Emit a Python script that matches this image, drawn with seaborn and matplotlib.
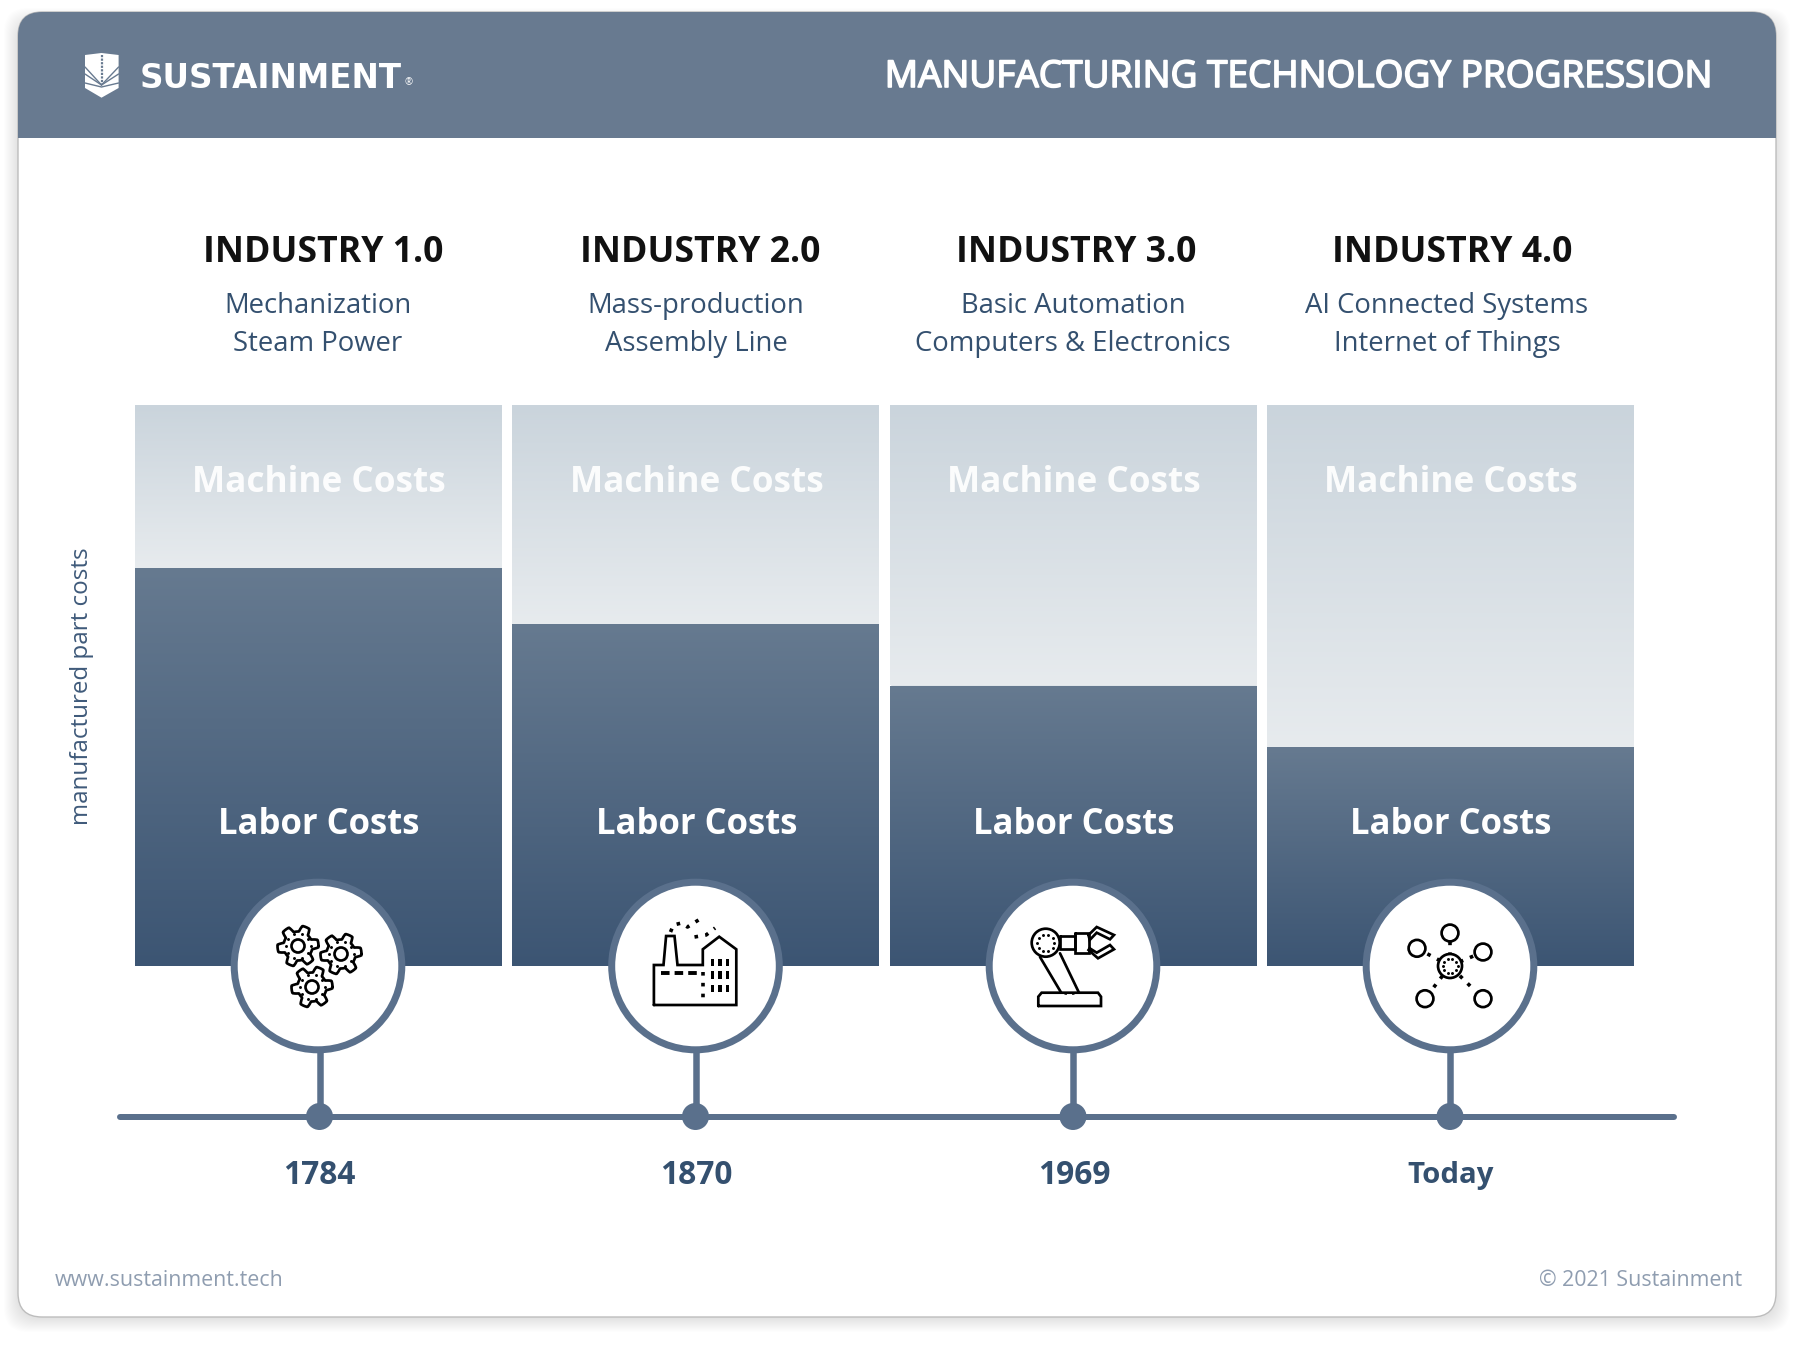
# ==========================================
# MANUFACTURING TECHNOLOGY PROGRESSION
# ==========================================

import numpy as np
import pandas as pd
import matplotlib
matplotlib.use("Agg")
import matplotlib.pyplot as plt
import matplotlib.patheffects as pe
import seaborn as sns
from matplotlib.colors import LinearSegmentedColormap
from matplotlib.patches import Circle, FancyBboxPatch, Polygon, Rectangle

# ==========================================
# DATA
# ==========================================

industries = ["INDUSTRY 1.0", "INDUSTRY 2.0", "INDUSTRY 3.0", "INDUSTRY 4.0"]
line_one = ["Mechanization", "Mass-production", "Basic Automation", "AI Connected Systems"]
line_two = ["Steam Power", "Assembly Line", "Computers & Electronics", "Internet of Things"]
years = ["1784", "1870", "1969", "Today"]
labor_costs = [71, 61, 50, 39]
machine_costs = [29, 39, 50, 61]

df = pd.DataFrame({"industry": industries, "labor": labor_costs, "machine": machine_costs})
df["total"] = df["labor"] + df["machine"]

# ==========================================
# STYLE
# ==========================================

sns.set_theme(style="white")
plt.rcParams["font.family"] = ["Open Sans", "DejaVu Sans"]

SLATE = "#687a90"
RING = "#5a708c"
NAVY = "#34506f"
GREY = "#8f9db0"

fig = plt.figure(figsize=(18, 13.47), dpi=100, facecolor="white")

# ==========================================
# CARD BACKGROUND
# ==========================================

bg = fig.add_axes([0, 0, 1, 1], zorder=0)
bg.set_xlim(0, 1800)
bg.set_ylim(1347, 0)
bg.axis("off")

for grow in range(1, 15):
    bg.add_patch(FancyBboxPatch((18 - grow, 22 - grow), 1758 + 2 * grow, 1296 + 2 * grow,
                                boxstyle="round,pad=0,rounding_size=24", fc="black", ec="none", alpha=0.007))

card = FancyBboxPatch((18, 12), 1758, 1305, boxstyle="round,pad=0,rounding_size=24",
                      fc="white", ec="#bdbdbd", lw=1)
bg.add_patch(card)
header = Rectangle((18, 12), 1758, 126, fc=SLATE, ec="none")
bg.add_patch(header)
header.set_clip_path(card)

# ==========================================
# STACKED BARS
# ==========================================

ax = fig.add_axes([129.5 / 1800, 1 - 966 / 1347, 1510 / 1800, 561 / 1347], zorder=1)
sns.barplot(data=df, x="industry", y="total", width=0.972, color="#d8dfe4", saturation=1, ax=ax)
sns.barplot(data=df, x="industry", y="labor", width=0.972, color="#526a86", saturation=1, ax=ax)
ax.set_xlim(-0.5, 3.5)
ax.set_ylim(0, 100)
ax.axis("off")

machine_cmap = LinearSegmentedColormap.from_list("machine", ["#cad4dc", "#e7ebee"])
labor_cmap = LinearSegmentedColormap.from_list("labor", ["#667a90", "#3c5573"])
gradient = np.linspace(0, 1, 256).reshape(-1, 1)

n = len(industries)
for i, patch in enumerate(ax.patches):
    x0 = patch.get_x()
    x1 = x0 + patch.get_width()
    top = patch.get_height()
    if i < n:
        img = ax.imshow(gradient, cmap=machine_cmap, aspect="auto", extent=(x0, x1, labor_costs[i], top), zorder=3)
    else:
        img = ax.imshow(gradient, cmap=labor_cmap, aspect="auto", extent=(x0, x1, 0, top), zorder=4)
    clip = Rectangle((x0, 0), x1 - x0, top, transform=ax.transData)
    img.set_clip_path(clip)

ax.set_xlim(-0.5, 3.5)
ax.set_ylim(0, 100)

# ==========================================
# TEXT, TIMELINE AND ICONS (PIXEL COORDINATES)
# ==========================================

over = fig.add_axes([0, 0, 1, 1], zorder=2)
over.set_xlim(0, 1800)
over.set_ylim(1347, 0)
over.axis("off")
over.patch.set_alpha(0)

centers = [318, 695.5, 1073, 1450]
stems = [319.5, 695.5, 1073, 1450]
head_x = [323, 700, 1076, 1452]
sub_x = [318, 696, 1073, 1447]
INK = 2.7 * 0.72


def outline(cx, cy, pts, close=True, lw=INK):
    xs = [cx + p[0] for p in pts]
    ys = [cy + p[1] for p in pts]
    if close:
        xs.append(xs[0])
        ys.append(ys[0])
    over.plot(xs, ys, color="black", lw=lw, solid_joinstyle="miter", zorder=8)


def dotted(cx, cy, pts, lw=2.6):
    xs = [cx + p[0] for p in pts]
    ys = [cy + p[1] for p in pts]
    over.plot(xs, ys, color="black", lw=lw, ls=(0, (1, 2.0)), zorder=8)


def ring(cx, cy, r):
    over.add_patch(Circle((cx, cy), r, fc="white", ec="black", lw=INK, zorder=8))


def dot_ring(cx, cy, r, n=10, size=4.5):
    ang = np.linspace(0, 2 * np.pi, n, endpoint=False)
    over.scatter(cx + r * np.cos(ang), cy + r * np.sin(ang), s=size, color="black", lw=0, zorder=9)


def gear(cx, cy):
    ang = np.linspace(0, 2 * np.pi, 181)
    rad = 17.5 + 3 * np.clip(2.2 * np.cos(6 * (ang + 0.12)), -1, 1)
    outline(cx, cy, list(zip(rad * np.cos(ang), rad * np.sin(ang))))
    ring(cx, cy, 6.5)
    dot_ring(cx, cy, 12.5, n=10)


def icon_gears(cx, cy):
    gear(cx - 20, cy - 20)
    gear(cx + 23, cy - 12)
    gear(cx - 6, cy + 21)


def icon_factory(cx, cy):
    outline(cx, cy, [(-41.6, 39), (-41.6, -1), (-32, -1), (-29.4, -30), (-21, -30), (-18, -1), (7.3, -1),
                     (7.3, -16.7), (23.7, -29.3), (40.8, -16.7), (40.8, 39)])
    over.plot([cx - 35, cx + 3.3], [cy + 7.3, cy + 7.3], color="black", lw=2.8, ls=(0, (2.2, 1.3)), zorder=8)
    dotted(cx, cy, [(7.8, 5.7), (7.8, 37)])
    dotted(cx, cy, [(-25, -34), (-22, -41), (-14, -43), (-8, -39), (3, -46)])
    dotted(cx, cy, [(-1, -29), (10.6, -31), (19.6, -38)])
    for wx in [17, 24.5, 32]:
        for wy in [-3.7, 9, 22.3]:
            over.add_patch(Rectangle((cx + wx - 1.9, cy + wy - 3.8), 3.8, 7.6, fc="black", ec="none", zorder=8))


def icon_robot(cx, cy):
    outline(cx, cy, [(-34.7, 40), (-34.7, 30.7), (-31.4, 26.7), (25, 26.7), (28, 30.7), (28, 40)])
    outline(cx, cy, [(-33, -9), (-11.8, 26.7)], close=False)
    outline(cx, cy, [(-13, -12.7), (6, 26.7)], close=False)
    outline(cx, cy, [(-13, -30), (2.4, -30), (2.4, -16.7), (-13, -16.7)])
    outline(cx, cy, [(2.4, -33.3), (15.5, -33.3), (15.5, -13.3), (2.4, -13.3)])
    outline(cx, cy, [(15.5, -31), (23.7, -39), (41, -31), (37, -26.7), (23.7, -33.3), (16.7, -26)])
    outline(cx, cy, [(16.7, -17.7), (23.7, -13.3), (37, -21), (41, -16.7), (25, -7.7), (15.5, -16)])
    ring(cx - 27.3, cy - 23.3, 14)
    dot_ring(cx - 27.3, cy - 23.3, 8.5)
    dotted(cx, cy, [(-9, 26.7), (3, 26.7)], lw=1.8)


def icon_network(cx, cy):
    nodes = [(0, -33), (-33, -17.7), (33, -14), (-25, 32.7), (33, 32.7)]
    for nx, ny in nodes:
        dotted(cx, cy, [(nx * 0.3, ny * 0.3), (nx * 0.76, ny * 0.76)])
        ring(cx + nx, cy + ny, 8.4)
    ring(cx, cy, 12)
    dot_ring(cx, cy, 7.5, n=10)


icons = [icon_gears, icon_factory, icon_robot, icon_network]

# Timeline
over.plot([120, 1674], [1116.5, 1116.5], color=RING, lw=6 * 0.72, solid_capstyle="round", zorder=3)
for cx, sx, label, icon in zip(centers, stems, years, icons):
    over.plot([sx, sx], [1050, 1116], color=RING, lw=6.5 * 0.72, solid_capstyle="butt", zorder=3)
    over.add_patch(Circle((sx, 1116.5), 13.5, fc=RING, ec="none", zorder=4))
    over.add_patch(Circle((cx, 966), 83.8, fc="white", ec=RING, lw=7 * 0.72, zorder=5))
    icon(cx, 966)
    size = 21.2 if label == "Today" else 22.8
    over.text(cx + 1, 1175, label, ha="center", va="center", fontsize=size, fontweight="bold", color=NAVY)

# Column headings and stack labels
for cx, hx, sx, name, a, b in zip(centers, head_x, sub_x, industries, line_one, line_two):
    over.text(hx, 252.5, name, ha="center", va="center", fontsize=25.7, fontweight="bold", color="#111111")
    over.text(sx, 306, a, ha="center", va="center", fontsize=19.8, color=NAVY)
    over.text(sx, 344, b, ha="center", va="center", fontsize=19.8, color=NAVY)
    over.text(cx + 1, 483, "Machine Costs", ha="center", va="center", fontsize=25.3, fontweight="bold", color="white", alpha=0.93)
    over.text(cx + 1, 825, "Labor Costs", ha="center", va="center", fontsize=24.9, fontweight="bold", color="white")

over.text(82.5, 686, "manufactured part costs", rotation=90, ha="center", va="center", fontsize=17.4, color="#3f5a7a")

# Header
title = over.text(1712, 78, "MANUFACTURING TECHNOLOGY PROGRESSION", ha="right", va="center",
                  fontsize=26.65, color="white")
title.set_path_effects([pe.withStroke(linewidth=1.2, foreground="white")])
over.text(140, 78.5, "SUSTAINMENT", ha="left", va="center", fontsize=23.5, fontweight="bold",
          family="DejaVu Sans", color="white")
over.text(409, 83, "®", ha="center", va="center", fontsize=7, color="white")

# Logo shield
over.add_patch(Polygon([(85, 55), (101.5, 53), (118.6, 55), (118.6, 88), (101.5, 97.7), (85, 88)],
                       fc="white", ec="none", zorder=6))
over.plot([101.5, 101.5], [55, 84], color=SLATE, lw=1.6, ls=(0, (1, 0.6)), zorder=7)
for ex, ey in [(85, 67), (85, 74), (118.6, 67), (118.6, 74)]:
    over.plot([ex, 101.5], [ey, 85], color=SLATE, lw=1, zorder=7)
over.plot([85, 101.5, 118.6], [83, 87, 83], color=SLATE, lw=1, zorder=7)

# Footer
over.text(55, 1281, "www.sustainment.tech", ha="left", va="center", fontsize=15.4, color=GREY)
over.text(1742, 1281, "© 2021 Sustainment", ha="right", va="center", fontsize=15.4, color=GREY)

# ==========================================
# SAVE
# ==========================================

fig.savefig("out.png", dpi=100)
